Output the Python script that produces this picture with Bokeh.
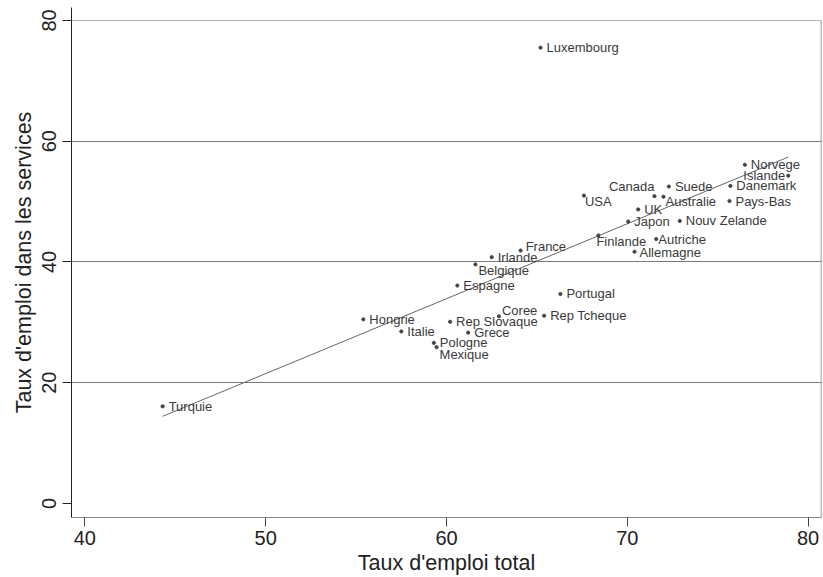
import numpy as np
from bokeh.plotting import figure
from bokeh.models import ColumnDataSource, FixedTicker, Span
from bokeh.core.properties import value
from bokeh.embed import file_html
from bokeh.resources import INLINE

# ---- data ----
pays = ["Turquie", "Hongrie", "Italie", "Pologne", "Mexique", "Rep Slovaque",
        "Espagne", "Grece", "Belgique", "Irlande", "Coree", "France",
        "Luxembourg", "Rep Tcheque", "Portugal", "USA", "Finlande", "Japon",
        "Allemagne", "UK", "Canada", "Autriche", "Australie", "Suede",
        "Nouv Zelande", "Pays-Bas", "Danemark", "Norvege", "Islande"]
emploi_total = [44.3, 55.4, 57.5, 59.3, 59.45, 60.2,
                60.6, 61.2, 61.6, 62.5, 62.9, 64.1,
                65.2, 65.4, 66.3, 67.6, 68.4, 70.05,
                70.4, 70.6, 71.5, 71.6, 72.0, 72.3,
                72.9, 75.65, 75.7, 76.5, 78.9]
emploi_services = [16.1, 30.5, 28.5, 26.6, 25.9, 30.1,
                   36.1, 28.3, 39.6, 40.8, 31.0, 41.9,
                   75.5, 31.1, 34.7, 51.0, 44.4, 46.7,
                   41.7, 48.7, 50.9, 43.8, 50.8, 52.5,
                   46.8, 50.1, 52.6, 56.1, 54.3]
x_ticks = [40, 50, 60, 70, 80]
y_ticks = [0, 20, 40, 60, 80]

# ---- label placement (style) ----
place = {
    "France": ("left", 5, -4), "Belgique": ("left", 3, 6), "Coree": ("left", 3, -6),
    "Mexique": ("left", 3, 7), "Finlande": ("left", -2, 6), "Islande": ("right", -3, 0),
    "Canada": ("right", 0, -10), "Australie": ("left", 2, 5), "USA": ("left", 1, 6),
    "Autriche": ("left", 2, 0), "Allemagne": ("left", 5, 1),
}
aligns = [place.get(n, ("left", 6, 0))[0] for n in pays]
dxs = [place.get(n, ("left", 6, 0))[1] for n in pays]
dys = [place.get(n, ("left", 6, 0))[2] for n in pays]

src = ColumnDataSource(dict(x=emploi_total, y=emploi_services, name=pays,
                            align=aligns, dx=dxs, dy=dys))

X0, X1 = 39.26, 80.74
Y0, Y1 = -2.32, 82.15

p = figure(width=823, height=577, x_range=(X0, X1), y_range=(Y0, Y1),
           output_backend="svg", toolbar_location=None,
           min_border_left=71, min_border_right=2, min_border_top=7,
           min_border_bottom=60, background_fill_color="white",
           border_fill_color="white")
p.outline_line_color = None

FONT = "Liberation Sans"
TXT = "#222222"

# grid
p.xgrid.visible = False
p.ygrid.ticker = FixedTicker(ticks=[20, 40, 60])
p.ygrid.grid_line_color = "#7a7a7a"
p.ygrid.grid_line_width = 1
p.add_layout(Span(location=80, dimension="width", line_color="#b4b4b4", line_width=1.2))

# axes
for ax, ticks in ((p.xaxis[0], x_ticks), (p.yaxis[0], y_ticks)):
    ax.ticker = FixedTicker(ticks=ticks)
    ax.major_tick_out = 9
    ax.major_tick_in = 0
    ax.minor_tick_out = 0
    ax.minor_tick_in = 0
    ax.major_label_text_font = FONT
    ax.major_label_text_font_size = "20px"
    ax.major_label_text_color = TXT
    ax.axis_label_text_font = FONT
    ax.axis_label_text_font_size = "21.5px"
    ax.axis_label_text_font_style = "normal"
    ax.axis_label_text_color = TXT

p.xaxis.axis_label = "Taux d'emploi total"
p.yaxis.axis_label = "Taux d'emploi dans les services"
p.xaxis.axis_line_color = "#888888"
p.xaxis.major_tick_line_color = "#444444"
p.yaxis.axis_line_color = "#222222"
p.yaxis.major_tick_line_color = "#222222"
p.yaxis.major_label_orientation = "vertical"
p.xaxis.major_label_standoff = 4
p.xaxis.axis_label_standoff = 3
p.yaxis.major_label_standoff = 6
p.yaxis.axis_label_standoff = 4

# right border of plot region
p.segment(x0=[X1], y0=[Y0], x1=[X1], y1=[80], line_color="#777777", line_width=1.5)

# fitted line (OLS on the data)
slope, intercept = np.polyfit(emploi_total, emploi_services, 1)
xf = [min(emploi_total), max(emploi_total)]
yf = [intercept + slope * v for v in xf]
p.line(xf, yf, line_color="#666666", line_width=1)

# points
p.scatter("x", "y", source=src, size=3.2, color="#454545")

# labels
p.text("x", "y", text="name", source=src, x_offset="dx", y_offset="dy",
       text_align="align", text_baseline="middle",
       text_font=value(FONT), text_font_size="13px", text_color="#3a3a3a")

open("out.html", "w").write(file_html(p, INLINE))
